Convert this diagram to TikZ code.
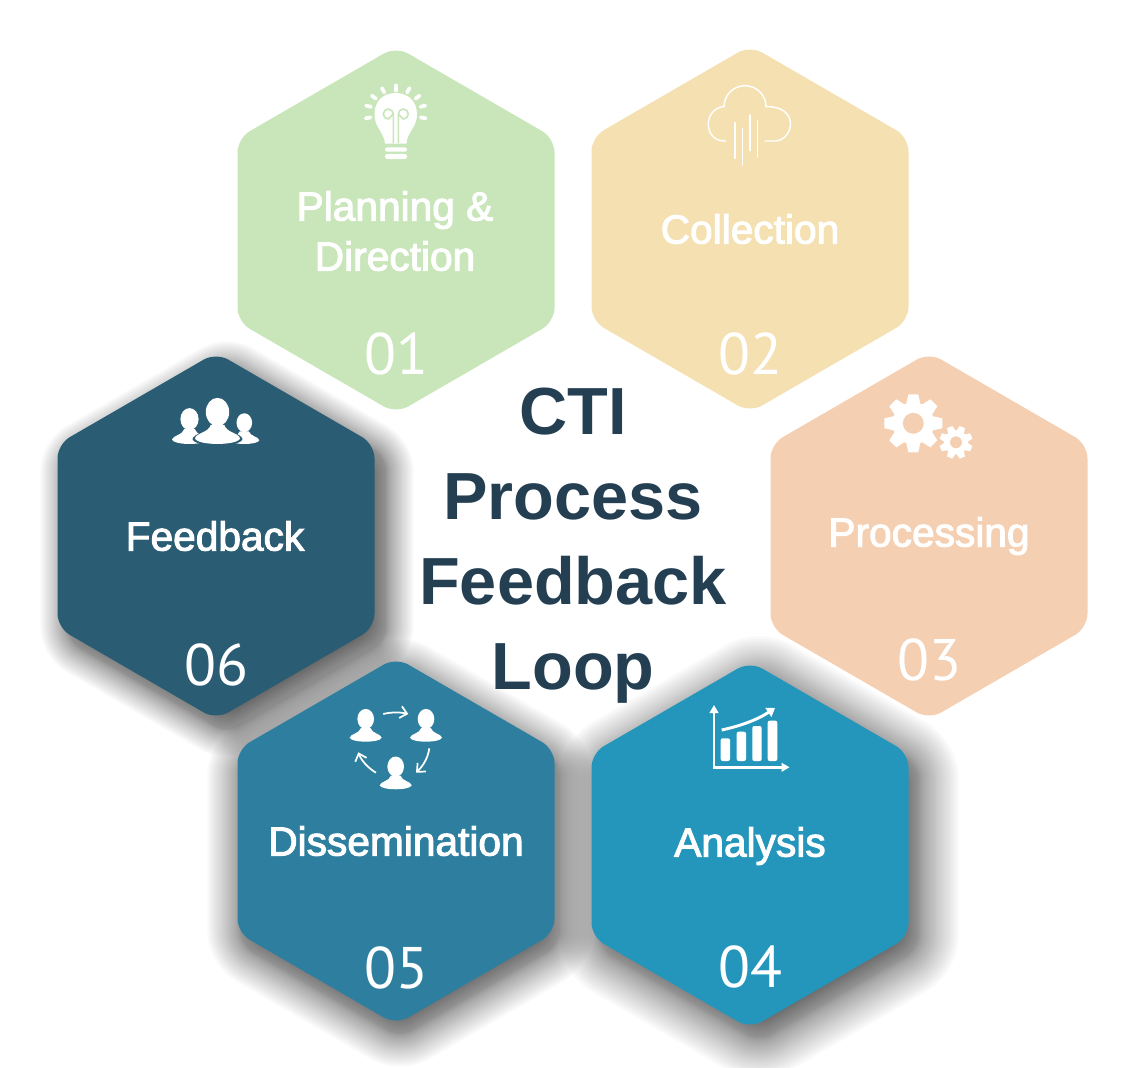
\documentclass[tikz,border=0pt]{standalone}
\usepackage{fontspec}
\usetikzlibrary{arrows.meta}
\setmainfont{Liberation Sans}
\newfontfamily\labelfont[FakeBold=2.5]{Liberation Sans}
\newfontfamily\numfont{PT Sans}

\definecolor{planCol}{HTML}{C8E6B9}
\definecolor{collCol}{HTML}{F4E0B0}
\definecolor{procCol}{HTML}{F4CFB2}
\definecolor{anaCol}{HTML}{2496BC}
\definecolor{dissCol}{HTML}{2E7F9F}
\definecolor{feedCol}{HTML}{2A5C74}
\definecolor{titleCol}{HTML}{243F52}

\def\hexpath{(0,-183.5) -- (158.5,-91.75) -- (158.5,91.75) -- (0,183.5) -- (-158.5,91.75) -- (-158.5,-91.75) -- cycle}

\tikzset{
  hexa/.style={rounded corners=10.5pt},
  steplabel/.style={text=white, font=\labelfont\fontsize{30.5}{37.5}\selectfont, align=center},
  stepnum/.style={text=white, font=\numfont\fontsize{44}{44}\selectfont},
  icoline/.style={draw=white, line cap=round, line width=1.1pt},
  person/.pic={
    \fill[pic actions] (0,-1.42) ellipse (.52 and .63);
    \fill[pic actions] (-1,-.25) .. controls (-.95,-.5) and (-.4,-.5) .. (-.3,-.85) -- (.3,-.85)
      .. controls (.4,-.5) and (.95,-.5) .. (1,-.25) .. controls (.9,.08) and (-.9,.08) .. cycle;
  }
}

\begin{document}
\begin{tikzpicture}[x=0.75pt, y=-0.75pt]
 \useasboundingbox (0,0) rectangle (1147,1068);

 %%%%%%%%%% Centres %%%%%%%%%%
 \coordinate (plan) at (396,230);
 \coordinate (coll) at (750,229);
 \coordinate (proc) at (929,536);
 \coordinate (ana) at (750,845);
 \coordinate (diss) at (396,841);
 \coordinate (feed) at (216,536);

 %%%%%%%%%% Shadows %%%%%%%%%%
 \foreach \c/\sx/\sy/\sk in {feed/11/13/0.78, diss/4/12/0.95, ana/9/12/1.15} {
   % inside the edge
   \foreach \t in {1,2,...,16} {
     \fill[shift={(\c)}, shift={(\sx,\sy)}, scale=1-\t*1.25/158.5, hexa, black, opacity=0.022] \hexpath;
   }
   % outside the edge
   \foreach \i in {1,2,...,24} {
     \begin{scope}[transparency group, opacity=0.022]
       \path[shift={(\c)}, shift={(\sx,\sy)}, hexa, fill=black, draw=black, line join=round,
             line width=36*((\i/24)^1.5)*\sk*1.5pt] \hexpath;
     \end{scope}
   }
 }

 %%%%%%%%%% Hexagons %%%%%%%%%%
 \foreach \c/\col in {plan/planCol, coll/collCol, proc/procCol, ana/anaCol, diss/dissCol, feed/feedCol} {
   \fill[shift={(\c)}, hexa, fill=\col] \hexpath;
 }

 %%%%%%%%%% Texts %%%%%%%%%%
 \node[steplabel] (planlabel) at (395,231) {Planning \&\\Direction};
 \node[steplabel] (colllabel) at (750,229) {Collection};
 \node[steplabel] (proclabel) at (929,536) {Processing};
 \node[steplabel] (analabel) at (750,846) {Analysis};
 \node[steplabel] (disslabel) at (396,841) {Dissemination};
 \node[steplabel] (feedlabel) at (215,536) {Feedback};

 \node[stepnum] (plannum) at (396,354) {01};
 \node[stepnum] (collnum) at (750,354) {02};
 \node[stepnum] (procnum) at (929,660) {03};
 \node[stepnum] (ananum) at (750,967) {04};
 \node[stepnum] (dissnum) at (396,968) {05};
 \node[stepnum] (feednum) at (216,665) {06};

 \node[text=titleCol, align=center, font=\bfseries\fontsize{50}{63.7}\selectfont] (title) at (573,546)
   {CTI\\Process\\Feedback\\Loop};

 %%%%%%%%%% Bulb %%%%%%%%%%
 \fill[white] (385,143.5) .. controls (384,132) and (374,127) .. (374.5,113.5)
   .. controls (375,100) and (384,93) .. (395.7,93) .. controls (407,93) and (416.5,100) .. (417,113.5)
   .. controls (417.5,127) and (407,132) .. (406.5,143.5) -- cycle;
 \draw[planCol, line width=1.2pt] (393.3,143) -- (393.3,114) arc[start angle=0, end angle=-270, radius=5] -- (393.3,114);
 \draw[planCol, line width=1.2pt] (398.3,143) -- (398.3,114) arc[start angle=180, end angle=450, radius=5] -- (398.3,114);
 \foreach \a/\r in {-90/25, -119/26, -61/26, -144/27, -36/27, -166/28, -14/28, 170/28, 10/28} {
   \draw[white, line width=2.8pt, line cap=round, shift={(395.7,113)}] (\a:{\r-2.5}) -- (\a:{\r+2.5});
 }
 \fill[white, rounded corners=1.2pt] (385,147.3) rectangle (407,151.7);
 \fill[white, rounded corners=1.2pt] (385,154) rectangle (407,159);

 %%%%%%%%%% Cloud %%%%%%%%%%
 \draw[icoline] (725.7,141) -- (725,141) .. controls (712,141) and (708.3,131) .. (708.3,124)
   .. controls (708.3,114) and (716,106.7) .. (724,106.7) arc[start angle=180, end angle=360, radius=21]
   .. controls (782,106) and (790.5,114) .. (790.5,124) .. controls (790.5,133) and (783,141) .. (775,141) -- (765,141);
 \foreach \x/\ya/\yb in {735/122.7/158.3, 742.3/128.3/165, 750/115/150.7, 757.7/120.7/156.7} {
   \draw[icoline] (\x,\ya) -- (\x,\yb);
 }

 %%%%%%%%%% Gears %%%%%%%%%%
 \foreach \gx/\gy/\gr/\goff in {913.3/423.3/29/0, 956/442.3/16.5/22.5} {
   \begin{scope}[shift={(\gx,\gy)}, scale=\gr]
     \fill[white] (0,0) circle (.72);
     \foreach \a in {0,45,...,315} {
       \fill[white, rotate=\a+\goff] (.6,-.26) -- (1,-.17) -- (1,.17) -- (.6,.26) -- cycle;
     }
     \fill[procCol] (0,0) circle (.36);
   \end{scope}
 }

 %%%%%%%%%% Chart %%%%%%%%%%
 \draw[white, line width=1.8pt, -{Triangle[length=6pt,width=6.5pt]}] (714,767.3) -- (714,705);
 \draw[white, line width=1.8pt, -{Triangle[length=6pt,width=6.5pt]}] (713.3,767.3) -- (789.5,767.3);
 \foreach \xa/\xb/\ya in {720.7/730/738.3, 736.7/746/731.7, 752.3/761.7/726, 767.7/777.3/720.7} {
   \fill[white, rounded corners=1.5pt] (\xa,\ya) rectangle (\xb,761);
 }
 \draw[white, line width=2.2pt, -{Triangle[length=6pt,width=8pt]}] (721.7,730) .. controls (740,726) and (757,720) .. (775,708);

 %%%%%%%%%% People, dissemination %%%%%%%%%%
 \pic[white, scale=16] at (365.7,741.7) {person};
 \pic[white, scale=16] at (426,741.7) {person};
 \pic[white, scale=16] at (395.7,789.3) {person};
 \draw[white, line width=1.3pt, -{Straight Barb[length=5pt,width=9pt]}] (383.3,714) .. controls (391,712) and (400,712) .. (408.3,714);
 \draw[white, line width=1.3pt, -{Straight Barb[length=5pt,width=9pt]}] (429.3,748.3) .. controls (428,758) and (423,766) .. (416,772.7);
 \draw[white, line width=1.3pt, -{Straight Barb[length=5pt,width=9pt]}] (376,772.7) .. controls (368,768) and (361,760) .. (358.3,752.3);

 %%%%%%%%%% People, feedback %%%%%%%%%%
 \pic[white, scale=17.5] at (189.5,444) {person};
 \pic[white, scale=15] at (244.3,444) {person};
 \pic[feedCol, scale=25] at (217.5,445.5) {person};
 \pic[white, scale=22.5] at (217.5,444) {person};

\end{tikzpicture}
\end{document}
